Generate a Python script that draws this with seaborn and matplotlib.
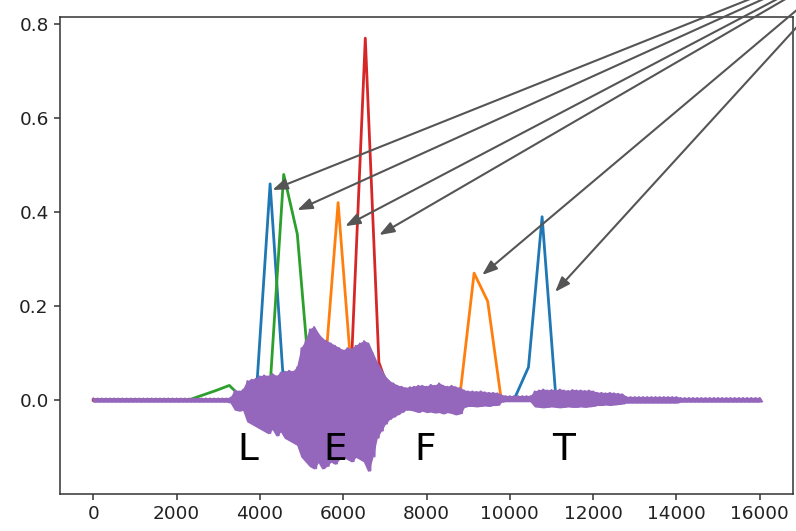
import numpy as np
import pandas as pd
import matplotlib
matplotlib.use("Agg")
import matplotlib.pyplot as plt
import seaborn as sns

# ---------------- data ----------------
n_frames = 50
frame_x = np.linspace(0, 16000, n_frames)

blue = [0.0] * 50
blue[12], blue[13], blue[14] = 0.02, 0.46, 0.03
blue[31], blue[32], blue[33], blue[34] = 0.005, 0.07, 0.39, 0.01

orange = [0.0] * 50
orange[17], orange[18], orange[19] = 0.05, 0.42, 0.05
orange[27], orange[28], orange[29], orange[30] = 0.02, 0.27, 0.21, 0.0

green = [0.0] * 50
green[8], green[9], green[10], green[11] = 0.01, 0.02, 0.031, 0.003
green[13], green[14], green[15], green[16] = 0.03, 0.48, 0.353, 0.01

red = [0.0] * 50
red[19], red[20], red[21] = 0.09, 0.77, 0.08

# audio waveform envelope, one value every 100 samples (0 .. 16000)
wave_upper = (
    [0.003] * 33 +
    [0.005, 0.02, 0.018, 0.022, 0.04, 0.043, 0.045,
     0.05, 0.052, 0.05, 0.055, 0.05, 0.058, 0.06, 0.062, 0.06, 0.07,
     0.11, 0.125, 0.15, 0.155, 0.14, 0.13, 0.125, 0.12, 0.115, 0.11,
     0.105, 0.11, 0.108, 0.115, 0.12, 0.125, 0.12, 0.10, 0.08, 0.065,
     0.05, 0.04, 0.035, 0.03, 0.028, 0.025, 0.027, 0.028, 0.03, 0.03,
     0.028, 0.032, 0.03, 0.035, 0.03, 0.028, 0.03, 0.027, 0.025, 0.02,
     0.018, 0.018, 0.017, 0.018, 0.016, 0.015, 0.015, 0.014, 0.01,
     0.008, 0.008, 0.008, 0.008, 0.008, 0.008, 0.008,
     0.018, 0.02, 0.022, 0.02, 0.021, 0.02, 0.022, 0.02, 0.019, 0.021,
     0.02, 0.02, 0.019, 0.02, 0.018,
     0.015, 0.015, 0.014, 0.015, 0.014, 0.013, 0.012] +
    [0.006] * 13 +
    [0.004] * 20
)
wave_lower = (
    [-0.003] * 33 +
    [-0.005, -0.02, -0.022, -0.02, -0.045, -0.05, -0.055,
     -0.06, -0.065, -0.07, -0.06, -0.075, -0.065, -0.08, -0.085, -0.09, -0.095,
     -0.12, -0.13, -0.14, -0.145, -0.13, -0.145, -0.14, -0.13, -0.135, -0.125,
     -0.12, -0.125, -0.13, -0.12, -0.125, -0.13, -0.15, -0.12, -0.08, -0.065,
     -0.05, -0.04, -0.035, -0.03, -0.025, -0.02, -0.02, -0.022, -0.025, -0.022,
     -0.025, -0.024, -0.026, -0.025, -0.028, -0.025, -0.027, -0.03, -0.028, -0.014,
     -0.012, -0.012, -0.013, -0.012, -0.011, -0.012, -0.01, -0.01, -0.003,
     -0.002, -0.002, -0.002, -0.002, -0.002, -0.002, -0.002,
     -0.013, -0.014, -0.015, -0.014, -0.013, -0.014, -0.015, -0.014, -0.013, -0.014,
     -0.014, -0.013, -0.014, -0.013, -0.012,
     -0.01, -0.01, -0.009, -0.01, -0.009, -0.008, -0.007] +
    [-0.005] * 13 +
    [-0.003] * 20
)

letters = ["L", "E", "F", "T"]
letter_x = [3700, 5800, 7970, 11290]

arrow_targets_x = [4300, 4896, 6048, 6864, 9336, 11088]
arrow_targets_y = [0.447, 0.404, 0.370, 0.351, 0.266, 0.230]
arrow_origin = (18500, 0.95)

# ---------------- figure ----------------
W, H, DPI = 796, 531, 100
fig = plt.figure(figsize=(W / DPI, H / DPI), dpi=DPI)
ax = fig.add_axes([60 / W, (531 - 494) / H, (793 - 60) / W, 477 / H])

colors = ["#1f77b4", "#ff7f0e", "#2ca02c", "#d62728", "#9467bd"]
for series, c in zip([blue, orange, green, red], colors[:4]):
    sns.lineplot(x=frame_x, y=series, ax=ax, color=c, linewidth=2.0,
                 estimator=None, sort=False)

# waveform body (envelope) and the oscillating trace on top
env_x = [i * 100 for i in range(len(wave_upper))]
ax.fill_between(env_x, wave_lower, wave_upper, color=colors[4], linewidth=1.2,
                edgecolor=colors[4], zorder=2.5)

wx, wy = [], []
for i, (u, l) in enumerate(zip(wave_upper, wave_lower)):
    wx += [i * 100, i * 100 + 50]
    wy += [u, l]
wave = pd.DataFrame({"x": wx, "y": wy})
sns.lineplot(data=wave, x="x", y="y", ax=ax, color=colors[4], linewidth=1.6,
             estimator=None, sort=False, zorder=2.6)

for t, x in zip(letters, letter_x):
    ax.text(x, -0.128, t, fontsize=27, ha="center", va="baseline", color="black",
            zorder=5)

for tx, ty in zip(arrow_targets_x, arrow_targets_y):
    ax.annotate("", xy=(tx, ty), xytext=arrow_origin, annotation_clip=False,
                arrowprops=dict(arrowstyle="-|>,head_length=0.6,head_width=0.22",
                                mutation_scale=15, color="#555555", lw=1.5,
                                shrinkA=0, shrinkB=0))

ax.set_xlim(-800, 16800)
ax.set_ylim(-0.2, 0.815)
ax.set_xticks(range(0, 16001, 2000))
ax.set_yticks([0.0, 0.2, 0.4, 0.6, 0.8])
ax.set_yticklabels(["0.0", "0.2", "0.4", "0.6", "0.8"])
ax.set_xlabel("")
ax.set_ylabel("")
ax.tick_params(labelsize=13.3, length=4.6, width=1.1, colors="#333333",
               labelcolor="#222222")
for s in ax.spines.values():
    s.set_linewidth(1.1)
    s.set_color("#333333")

fig.savefig("out.png", dpi=DPI)
